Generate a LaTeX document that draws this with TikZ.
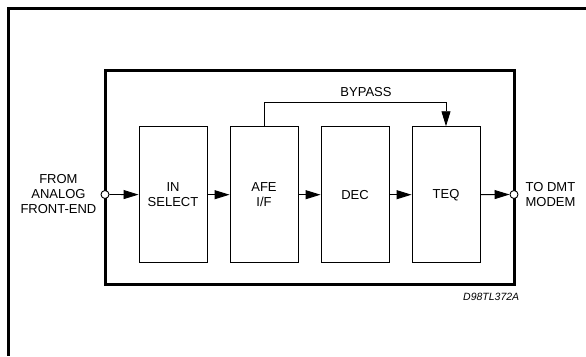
\documentclass[tikz,border=0pt]{standalone}
\usepackage{fontspec}
\setmainfont{Liberation Sans}
\usetikzlibrary{positioning}
\usetikzlibrary{arrows.meta}
\tikzset{node distance=4pt,
block/.style={ % Sets the properties for each block
draw,
line width=0.9pt,
minimum width=68pt,
minimum height=136pt,
align=center,
font=\fontsize{13}{15}\selectfont},
port/.style={ % Small open circles on the chip edge
draw, circle,
fill=white,
line width=0.9pt,
minimum size=8pt,
inner sep=0pt},
sig/.style={ % Sets the properties for each signal line
draw,
line width=0.9pt,
-{Triangle[length=15pt,width=9pt]}},
lbl/.style={font=\fontsize{13}{15}\selectfont, inner sep=0pt}}

\begin{document}
\begin{tikzpicture}[x=1pt, y=-1pt]
	\useasboundingbox (0,0) rectangle (586,356);
	\draw[line width=3pt] (586,8.5) -- (8.5,8.5) -- (8.5,356);
	\node[draw, line width=3pt, minimum width=409pt, minimum height=214.7pt] (chip) at (309.5,177.35) {};
	\node[block] (insel) at (173,194.7) {IN\\SELECT};
	\node[block] (afe) at (264,194.7) {AFE\\I/F};
	\node[block] (dec) at (355,194.7) {DEC};
	\node[block] (teq) at (446,194.7) {TEQ};
	\node[port] (in) at (105,194.5) {};
	\node[port] (out) at (514,194.5) {};
	\node[lbl, align=center, left=of in] (src) {FROM\\ANALOG\\FRONT-END};
	\node[lbl, align=left, right=7pt of out] (dst) {TO DMT\\MODEM};
	\node[lbl] (bypass) at (366,91.7) {BYPASS};
	\node[font=\fontsize{10.5}{12}\selectfont\itshape, inner sep=0pt] (code) at (491.2,297.2) {D98TL372A};
	\draw[sig] (in) -- (insel);
	\draw[sig] (insel) -- (afe);
	\draw[sig] (afe) -- (dec);
	\draw[sig] (dec) -- (teq);
	\draw[sig] (teq) -- (out);
	\draw[sig] (afe.north) -- ++(0,-23.4) -| (teq.north);
\end{tikzpicture}
\end{document}
